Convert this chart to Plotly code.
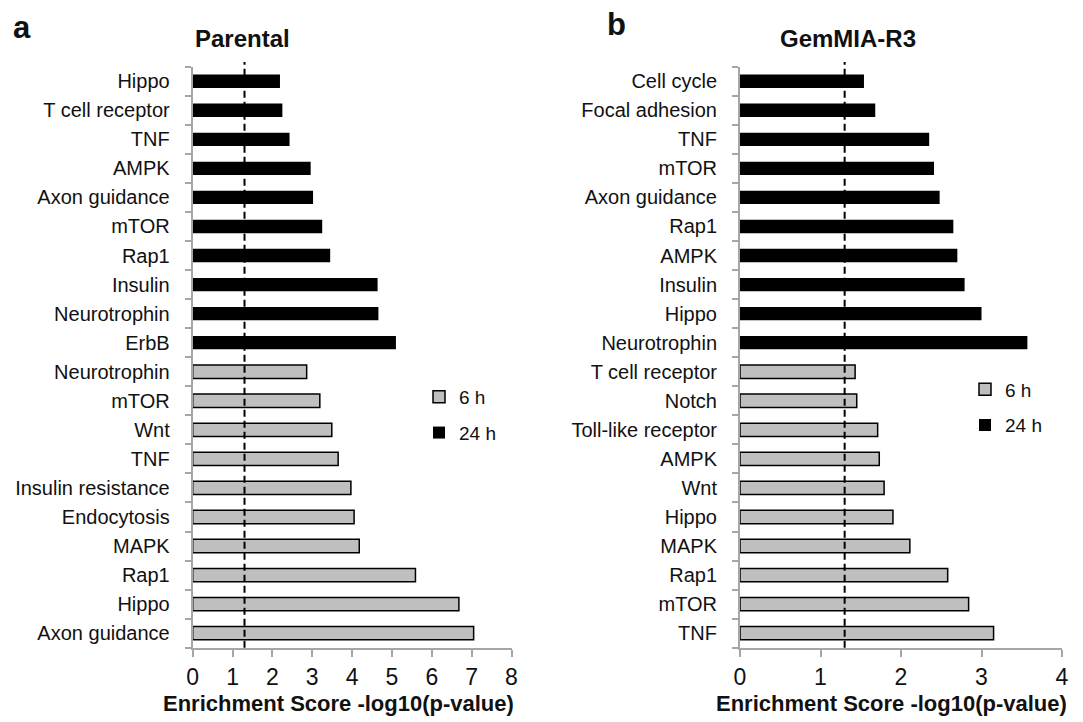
import plotly.graph_objects as go

# ---------------- data (top-to-bottom order within each group) ----------------
left_24h_labels = ["Hippo", "T cell receptor", "TNF", "AMPK", "Axon guidance",
                   "mTOR", "Rap1", "Insulin", "Neurotrophin", "ErbB"]
left_24h_values = [2.19, 2.25, 2.43, 2.96, 3.02, 3.25, 3.45, 4.64, 4.66, 5.10]
left_6h_labels = ["Neurotrophin", "mTOR", "Wnt", "TNF", "Insulin resistance",
                  "Endocytosis", "MAPK", "Rap1", "Hippo", "Axon guidance"]
left_6h_values = [2.86, 3.19, 3.49, 3.65, 3.97, 4.05, 4.18, 5.59, 6.68, 7.05]

right_24h_labels = ["Cell cycle", "Focal adhesion", "TNF", "mTOR", "Axon guidance",
                    "Rap1", "AMPK", "Insulin", "Hippo", "Neurotrophin"]
right_24h_values = [1.54, 1.68, 2.35, 2.41, 2.48, 2.65, 2.70, 2.79, 3.00, 3.57]
right_6h_labels = ["T cell receptor", "Notch", "Toll-like receptor", "AMPK", "Wnt",
                   "Hippo", "MAPK", "Rap1", "mTOR", "TNF"]
right_6h_values = [1.43, 1.45, 1.71, 1.73, 1.79, 1.90, 2.11, 2.58, 2.84, 3.15]

threshold = 1.3  # -log10(0.05)
x_ticks_left = [0, 1, 2, 3, 4, 5, 6, 7, 8]
x_ticks_right = [0, 1, 2, 3, 4]

# ---------------- styles ----------------
W, H = 1083, 722
OFF = 8  # page body margin offset
FONT = "Liberation Sans, Arial, sans-serif"
TXT = "#111111"
AX = "#a6a6a6"
GRAY = "#bfbfbf"

def px_x(p):
    return (p - OFF) / W

def px_y(p):
    return 1 - (p - OFF) / H

fig = go.Figure()

panels = [
    ("x", "y", "legend", left_24h_labels, left_24h_values, left_6h_labels, left_6h_values),
    ("x2", "y2", "legend2", right_24h_labels, right_24h_values, right_6h_labels, right_6h_values),
]

for xa, ya, leg, l24, v24, l6, v6 in panels:
    n24 = len(l24)
    pos24 = list(range(n24))
    pos6 = list(range(n24, n24 + len(l6)))
    fig.add_trace(go.Bar(
        x=v6, y=pos6, orientation="h", name="6 h", width=0.46,
        marker=dict(color=GRAY, line=dict(color="#000000", width=1.5)),
        xaxis=xa, yaxis=ya, legend=leg, legendgroup="g6", showlegend=True,
        hoverinfo="x+name"))
    fig.add_trace(go.Bar(
        x=v24, y=pos24, orientation="h", name="24 h", width=0.46,
        marker=dict(color="#000000", line=dict(color="#000000", width=0)),
        xaxis=xa, yaxis=ya, legend=leg, legendgroup="g24", showlegend=True,
        hoverinfo="x+name"))

def yaxis_cfg(labels, domain_anchor):
    n = len(labels)
    return dict(
        domain=[px_y(647.7), px_y(66.7)],
        anchor=domain_anchor,
        automargin=False,
        range=[n - 0.5, -0.5],
        tickmode="array",
        tickvals=list(range(n)),
        ticktext=labels,
        ticks="",
        ticklabelstandoff=17,
        showline=True, linecolor=AX, linewidth=2,
        showgrid=False, zeroline=False,
        tickfont=dict(family=FONT, size=20, color=TXT),
        minor=dict(tickmode="array",
                   tickvals=[i - 0.5 for i in range(n + 1)],
                   ticks="outside", ticklen=6, tickwidth=2, tickcolor=AX,
                   showgrid=False),
    )

def xaxis_cfg(dom, rng, ticks, anchor):
    return dict(
        domain=dom, anchor=anchor, range=rng,
        automargin=False,
        tickmode="array", tickvals=ticks,
        ticks="outside", ticklen=7, tickwidth=2, tickcolor=AX,
        ticklabelstandoff=1,
        showline=True, linecolor=AX, linewidth=2,
        showgrid=False, zeroline=False,
        tickfont=dict(family=FONT, size=23, color=TXT),
    )

fig.update_layout(
    width=W, height=H,
    margin=dict(l=0, r=0, t=0, b=0, autoexpand=False),
    paper_bgcolor="white", plot_bgcolor="white",
    barmode="overlay",
    xaxis=xaxis_cfg([px_x(192.7), px_x(511.5)], [0, 8], x_ticks_left, "y"),
    xaxis2=xaxis_cfg([px_x(740), px_x(1062)], [0, 4], x_ticks_right, "y2"),
    yaxis=yaxis_cfg(left_24h_labels + left_6h_labels, "x"),
    yaxis2=yaxis_cfg(right_24h_labels + right_6h_labels, "x2"),
    legend=dict(x=px_x(419), y=px_y(378), xanchor="left", yanchor="top",
                traceorder="grouped", tracegroupgap=8, bgcolor="rgba(0,0,0,0)",
                font=dict(family=FONT, size=19, color=TXT)),
    legend2=dict(x=px_x(965), y=px_y(370.5), xanchor="left", yanchor="top",
                 traceorder="grouped", tracegroupgap=8, bgcolor="rgba(0,0,0,0)",
                 font=dict(family=FONT, size=19, color=TXT)),
    showlegend=True,
)

# threshold dashed lines
for xa, ya in [("x", "y"), ("x2", "y2")]:
    fig.add_shape(type="line", xref=xa, yref=f"{ya} domain",
                  x0=threshold, x1=threshold, y0=0, y1=1.008,
                  line=dict(color="#000000", width=2, dash="7px,4px"),
                  layer="above")

annots = [
    ("<b>a</b>", 22, 28, 31, "middle"),
    ("<b>b</b>", 616, 25, 31, "middle"),
    ("<b>Parental</b>", 242, 38, 24, "middle"),
    ("<b>GemMIA-R3</b>", 848, 38, 24, "middle"),
    ("<b>Enrichment Score -log10(p-value)</b>", 338, 689, 22, "top"),
    ("<b>Enrichment Score -log10(p-value)</b>", 891, 689, 22, "top"),
]
for text, ax_, ay_, size, yanc in annots:
    fig.add_annotation(text=text, xref="paper", yref="paper",
                       x=px_x(ax_), y=px_y(ay_), xanchor="center", yanchor=yanc,
                       showarrow=False, font=dict(family=FONT, size=size, color=TXT))

fig.write_html("out.html")
